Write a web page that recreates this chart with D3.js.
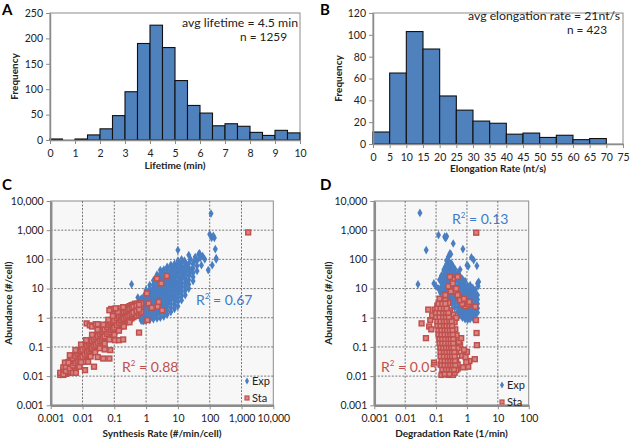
<!DOCTYPE html>
<html><head><meta charset="utf-8">
<script src="https://cdn.jsdelivr.net/npm/d3@7"></script>
<style>
body{margin:0;background:#fff;}
svg text{font-family:"Lato","Open Sans",sans-serif;}
</style></head>
<body><svg id="c" width="630" height="439"></svg>
<script>
// ---------- DATA ----------
const lifetimeBins = [0,0.5,1,1.5,2,2.5,3,3.5,4,4.5,5,5.5,6,6.5,7,7.5,8,8.5,9,9.5,10];
const lifetimeFreq = [2,0,2,10,22,48,95,190,226,182,117,68,53,28,32,27,15,9,19,14];
const lifetimeXTicks = [0,1,2,3,4,5,6,7,8,9,10];
const lifetimeYTicks = [0,50,100,150,200,250];

const elongBins = [0,5,10,15,20,25,30,35,40,45,50,55,60,65,70];
const elongFreq = [11,65,103,87,44,31,21,19,9,10,6,8,4,5];
const elongXTicks = [0,5,10,15,20,25,30,35,40,45,50,55,60,65,70,75];
const elongYTicks = [0,20,40,60,80,100,120];

const logTicksC = [0.001,0.01,0.1,1,10,100,1000,10000];
const logTicksDx = [0.001,0.01,0.1,1,10,100];
const logTicksY = [0.001,0.01,0.1,1,10,100,1000,10000];

// Panel C: synthesis rate vs abundance
const synthExp = [[0.6,1.2],[0.65,2.5],[0.7,0.9],[0.7,4.5],[0.75,1.6],[0.8,3.2],[0.8,0.78],[0.85,1.1],[0.9,2.2],[0.9,5.5],[0.95,1.4],[1.0,0.85],[1.0,3.0],[1.05,1.8],[1.1,7],[1.1,1.1],[1.15,2.5],[1.2,4],[1.25,0.95],[1.3,1.5],[1.35,3.5],[1.4,9],[1.4,2.0],[1.5,1.2],[1.5,5.5],[1.6,2.8],[1.65,1.6],[1.7,4.2],[1.8,12],[1.8,2.2],[1.9,7],[1.95,1.3],[2.0,3.3],[2.1,5],[2.2,1.8],[2.3,9],[2.3,2.6],[2.4,16],[2.5,4],[2.6,1.5],[2.7,6.5],[2.8,3],[2.9,11],[3.0,2.2],[3.1,20],[3.2,4.8],[3.3,8],[3.5,3.3],[3.6,14],[3.7,2.5],[3.8,6],[4.0,25],[4.0,10],[4.2,4],[4.4,17],[4.5,3],[4.7,7.5],[4.9,30],[5.0,12],[5.2,5],[5.5,20],[5.7,3.8],[6,9],[6.2,40],[6.5,15],[6.8,6],[7,25],[7.3,11],[7.6,50],[8,4.5],[8,18],[8.5,35],[9,8],[9,60],[9.5,14],[10,25],[10,208],[10.5,45],[11,10],[11.5,70],[12,20],[12.5,35],[13,15],[14,55],[15,28],[16,90],[17,40],[18,18],[20,60],[22,140],[23,30],[25,100],[27,45],[30,70],[32,82],[35,120],[40,90],[45,150],[48,160],[50,110],[55,63],[60,130],[70,100],[90,43],[100,720],[110,3700],[120,63],[115,550],[130,640],[140,550],[150,225],[160,100],[160,110],[0.35,14],[0.55,4.9],[0.5,1.8],[0.45,2.8],[0.6,3.5],
[0.7,0.8],[0.7,1.1],[0.7,1.5],[0.7,2.1],[0.7,3],[0.7,4.2],[0.85,0.78],[0.85,1.0],[0.85,1.4],[0.85,2],[0.85,2.8],[0.85,4],[0.85,5.5],
[1.0,0.8],[1.0,1.05],[1.0,1.4],[1.0,1.9],[1.0,2.6],[1.0,3.5],[1.0,4.8],[1.0,6.5],[1.0,9],
[1.3,0.85],[1.3,1.1],[1.3,1.5],[1.3,2],[1.3,2.7],[1.3,3.7],[1.3,5],[1.3,7],[1.3,9.5],[1.3,13],
[1.7,0.9],[1.7,1.2],[1.7,1.6],[1.7,2.2],[1.7,3],[1.7,4],[1.7,5.5],[1.7,7.5],[1.7,10],[1.7,14],[1.7,19],
[2.2,0.95],[2.2,1.3],[2.2,1.8],[2.2,2.4],[2.2,3.3],[2.2,4.5],[2.2,6],[2.2,8.5],[2.2,11.5],[2.2,16],[2.2,22],[2.2,30],
[2.8,1.0],[2.8,1.4],[2.8,1.9],[2.8,2.6],[2.8,3.5],[2.8,4.8],[2.8,6.5],[2.8,9],[2.8,12],[2.8,17],[2.8,23],[2.8,32],[2.8,43],
[3.6,1.1],[3.6,1.5],[3.6,2.1],[3.6,2.9],[3.6,4],[3.6,5.5],[3.6,7.5],[3.6,10],[3.6,14],[3.6,19],[3.6,26],[3.6,36],[3.6,45],
[4.6,1.3],[4.6,1.8],[4.6,2.5],[4.6,3.4],[4.6,4.7],[4.6,6.5],[4.6,9],[4.6,12],[4.6,17],[4.6,23],[4.6,32],[4.6,45],[4.6,55],
[6,1.6],[6,2.2],[6,3],[6,4.2],[6,5.8],[6,8],[6,11],[6,15],[6,21],[6,29],[6,40],[6,55],[6,65],
[7.8,2],[7.8,2.8],[7.8,3.8],[7.8,5.2],[7.8,7.2],[7.8,10],[7.8,14],[7.8,19],[7.8,26],[7.8,36],[7.8,50],[7.8,70],
[10,2.5],[10,3.5],[10,4.8],[10,6.5],[10,9],[10,12.5],[10,17],[10,24],[10,33],[10,46],[10,64],[10,90],
[13,4],[13,5.5],[13,7.5],[13,10.5],[13,14.5],[13,20],[13,28],[13,39],[13,54],[13,75],[13,100],
[17,6],[17,8.5],[17,12],[17,16],[17,22],[17,30],[17,42],[17,58],[17,80],
[22,10],[22,14],[22,20],[22,28],[22,38],[22,52],[22,72],[30,18],[30,25],[30,35],[30,50],[40,40],[40,60]];
const synthSta = [[0.002,0.011],[0.002,0.013],[0.0025,0.011],[0.0025,0.016],[0.003,0.012],[0.003,0.018],[0.003,0.024],[0.0035,0.013],[0.0035,0.02],[0.0035,0.03],[0.004,0.014],[0.004,0.024],[0.004,0.033],[0.005,0.017],[0.005,0.03],[0.005,0.045],[0.006,0.021],[0.006,0.035],[0.006,0.055],[0.007,0.025],[0.007,0.042],[0.007,0.065],[0.008,0.028],[0.008,0.05],[0.008,0.075],[0.009,0.032],[0.009,0.055],[0.009,0.085],[0.01,0.035],[0.01,0.06],[0.01,0.095],[0.012,0.042],[0.012,0.072],[0.012,0.11],[0.014,0.05],[0.014,0.085],[0.014,0.13],[0.016,0.056],[0.016,0.1],[0.016,0.15],[0.018,0.063],[0.018,0.11],[0.018,0.17],[0.02,0.07],[0.02,0.12],[0.02,0.19],[0.023,0.08],[0.023,0.14],[0.023,0.22],[0.026,0.09],[0.026,0.16],[0.026,0.25],[0.03,0.1],[0.03,0.18],[0.03,0.29],[0.035,0.12],[0.035,0.21],[0.035,0.34],[0.04,0.14],[0.04,0.24],[0.04,0.38],[0.045,0.16],[0.045,0.27],[0.045,0.43],[0.05,0.17],[0.05,0.3],[0.05,0.48],[0.06,0.2],[0.06,0.36],[0.06,0.58],[0.07,0.24],[0.07,0.42],[0.07,0.68],[0.08,0.27],[0.08,0.48],[0.08,0.78],[0.09,0.3],[0.09,0.54],[0.09,0.88],[0.1,0.33],[0.1,0.6],[0.1,0.98],[0.1,1.5],[0.12,0.38],[0.12,0.72],[0.12,1.15],[0.12,1.8],[0.14,0.45],[0.14,0.82],[0.14,1.3],[0.16,0.5],[0.16,0.95],[0.16,1.5],[0.16,2.1],[0.18,0.55],[0.18,1.05],[0.18,1.7],[0.2,0.6],[0.2,1.15],[0.2,1.9],[0.23,0.7],[0.23,1.3],[0.23,2.1],[0.26,0.75],[0.26,1.45],[0.26,2.3],[0.3,0.85],[0.3,1.6],[0.3,2.5],[0.35,0.95],[0.35,1.8],[0.35,2.7],[0.4,1.05],[0.4,1.9],[0.4,2.8],[0.45,1.15],[0.45,2.0],[0.45,3.0],[0.5,1.2],[0.5,2.1],[0.5,3.0],[0.6,1.4],[0.6,2.3],[0.6,3.1],[0.7,1.6],[0.7,2.5],[0.7,3.1],
[0.0025,0.0115],[0.0025,0.02],[0.003,0.015],[0.003,0.021],[0.004,0.018],[0.004,0.03],[0.005,0.023],[0.005,0.04],[0.006,0.028],[0.006,0.048],[0.007,0.032],[0.007,0.056],[0.008,0.037],[0.008,0.064],[0.009,0.041],[0.009,0.072],[0.01,0.046],[0.01,0.08],[0.012,0.055],[0.012,0.096],[0.014,0.064],[0.014,0.11],[0.016,0.074],[0.016,0.13],[0.018,0.083],[0.018,0.14],[0.02,0.092],[0.02,0.16],[0.023,0.106],[0.023,0.18],[0.026,0.12],[0.026,0.21],[0.03,0.14],[0.03,0.24],[0.035,0.16],[0.035,0.28],[0.04,0.18],[0.04,0.32],[0.045,0.21],[0.045,0.36],[0.05,0.23],[0.05,0.4],[0.06,0.28],[0.06,0.48],[0.07,0.32],[0.07,0.56],[0.08,0.37],[0.08,0.64],[0.09,0.41],[0.09,0.72],[0.1,0.46],[0.1,0.8],[0.12,0.55],[0.12,0.96],[0.14,0.64],[0.14,1.1],[0.16,0.74],[0.16,1.25],[0.18,0.83],[0.18,1.4],[0.2,0.92],[0.2,1.55],[0.23,1.0],[0.23,1.7],[0.26,1.1],[0.26,1.9],[0.3,1.2],[0.3,2.0],[0.35,1.35],[0.35,2.2],[0.4,1.5],[0.4,2.4],[0.5,1.7],[0.5,2.6],[0.6,1.9],[0.6,2.8],
[0.005,0.013],[0.008,0.021],[0.012,0.031],[0.018,0.047],[0.025,0.065],[0.035,0.09],[0.05,0.13],[0.07,0.18],[0.1,0.26],[0.14,0.36],[0.2,0.5],[0.3,0.7],
[0.004,0.052],[0.006,0.078],[0.009,0.12],[0.013,0.17],[0.02,0.26],[0.03,0.39],[0.045,0.58],[0.065,0.85],[0.09,1.15],[0.13,1.6],[0.19,2.3],
[0.0028,0.029],[0.0036,0.029],[0.0062,0.013],[0.0135,0.64],[0.017,0.55],[0.02,0.5],[0.026,0.6],[0.05,0.082],[0.045,0.04],[0.07,0.04],[0.075,0.078],[0.023,0.021],[0.015,0.031],[0.03,0.045],[0.012,0.016],[0.105,0.17],[0.14,0.17],[0.19,0.18],[0.6,0.31],[1.1,0.83],[2.2,22],[4.5,27],[1.06,6.8],[1.2,3.1],[2.3,2.4],[1620,840],[3,15],[2.5,3.5],[3.2,1.8],[1.5,2.2],[0.08,2.0],[0.07,1.8],[0.11,2.1],[0.03,0.6],[0.009,0.03]];

// Panel D: degradation rate vs abundance
const degExp = [[0.03,3900],[0.048,208],[0.026,14],[0.12,680],[0.19,600],[0.21,560],[0.22,620],[0.2,540],[0.36,350],[0.74,225],[1.4,117],[1.65,95],[1.0,63],[2.1,60],[1.1,58],[0.6,45],[2.2,15],[2.4,17],[2.3,12],[0.25,123],[0.28,160],[0.3,150],[0.22,90],[0.27,80],[0.32,70],[0.24,60],[0.2,55],[0.35,55],[0.18,40],[0.3,40],[0.4,45],[0.26,35],[0.38,30],[0.15,28],[0.5,30],[0.22,25],[0.45,22],[0.6,25],[0.13,20],[0.16,15],[0.1,12],[0.085,15],[0.12,10],[0.14,7],
[0.15,8],[0.15,12],[0.15,18],[0.15,25],[0.18,5],[0.18,7],[0.18,10],[0.18,14],[0.18,20],[0.18,30],[0.18,45],
[0.22,4],[0.22,6],[0.22,8.5],[0.22,12],[0.22,17],[0.22,24],[0.22,34],[0.22,50],[0.22,70],
[0.27,3.5],[0.27,5],[0.27,7],[0.27,10],[0.27,14],[0.27,20],[0.27,28],[0.27,40],[0.27,56],[0.27,80],
[0.33,3],[0.33,4.2],[0.33,6],[0.33,8.5],[0.33,12],[0.33,17],[0.33,24],[0.33,34],[0.33,48],[0.33,65],
[0.4,2.2],[0.4,3.2],[0.4,4.5],[0.4,6.3],[0.4,9],[0.4,12.5],[0.4,18],[0.4,25],[0.4,35],[0.4,48],
[0.5,1.6],[0.5,2.3],[0.5,3.2],[0.5,4.5],[0.5,6.3],[0.5,9],[0.5,12.5],[0.5,18],[0.5,25],[0.5,35],
[0.6,1.2],[0.6,1.7],[0.6,2.4],[0.6,3.4],[0.6,4.8],[0.6,6.7],[0.6,9.4],[0.6,13],[0.6,18],[0.6,26],
[0.72,1.0],[0.72,1.4],[0.72,2],[0.72,2.8],[0.72,3.9],[0.72,5.5],[0.72,7.7],[0.72,11],[0.72,15],[0.72,21],
[0.87,0.9],[0.87,1.25],[0.87,1.75],[0.87,2.5],[0.87,3.5],[0.87,4.9],[0.87,6.8],[0.87,9.5],[0.87,13],[0.87,18],
[1.05,0.85],[1.05,1.2],[1.05,1.7],[1.05,2.4],[1.05,3.3],[1.05,4.6],[1.05,6.5],[1.05,9],[1.05,12.5],
[1.27,0.9],[1.27,1.25],[1.27,1.75],[1.27,2.5],[1.27,3.5],[1.27,4.9],[1.27,6.8],[1.27,9.5],[1.27,13],
[1.55,1.0],[1.55,1.4],[1.55,2],[1.55,2.8],[1.55,3.9],[1.55,5.5],[1.55,7.7],[1.55,10.5],
[1.85,1.2],[1.85,1.7],[1.85,2.4],[1.85,3.4],[1.85,4.8],[1.85,6.7],[1.85,9],[2.2,1.5],[2.2,2.1],[2.2,3],[2.2,4.2],[2.2,6]];
const degSta = [[0.034,0.64],[0.047,0.2],[0.056,1.9],[0.065,0.83],[0.06,0.5],[0.07,0.4],[0.075,1.2],[1.86,2.4],[1.96,0.83],[2.05,0.3],[2.1,0.115],[1.8,0.038],[1.0,0.068],[1.2,0.033],[1.1,0.021],[2.0,820],[0.086,0.029],[0.78,3.5],[0.9,2.5],[1.1,3],[0.5,25],[0.35,20],[0.4,8],[0.55,5],[0.6,0.12],[0.7,0.05],[0.8,0.08],[0.9,0.045],[0.55,0.15],[0.65,0.2],[0.75,0.02],[0.95,0.03],[0.5,0.018],
[0.15,0.011],[0.2,0.012],[0.25,0.011],[0.3,0.012],[0.35,0.011],[0.4,0.013],[0.18,0.015],[0.23,0.016],[0.28,0.014],[0.33,0.017],[0.45,0.016],[0.14,0.025],[0.17,0.03],[0.2,0.022],[0.22,0.035],[0.25,0.028],[0.27,0.04],[0.3,0.024],[0.32,0.033],[0.36,0.045],[0.4,0.028],[0.45,0.036],[0.5,0.025],[0.19,0.045],[0.16,0.04],[0.15,0.06],[0.18,0.08],[0.2,0.055],[0.22,0.1],[0.24,0.07],[0.26,0.13],[0.28,0.06],[0.3,0.09],[0.33,0.12],[0.36,0.07],[0.4,0.1],[0.45,0.065],[0.5,0.09],[0.17,0.12],[0.14,0.1],[0.13,0.2],[0.16,0.3],[0.18,0.18],[0.2,0.4],[0.22,0.25],[0.24,0.16],[0.26,0.35],[0.28,0.22],[0.3,0.45],[0.32,0.18],[0.35,0.3],[0.38,0.22],[0.42,0.4],[0.46,0.25],[0.15,0.45],[0.19,0.26],[0.12,0.7],[0.14,1.1],[0.16,0.55],[0.18,0.9],[0.2,1.3],[0.22,0.6],[0.24,1.0],[0.26,0.75],[0.28,1.2],[0.3,0.55],[0.33,0.9],[0.36,1.3],[0.4,0.7],[0.45,1.0],[0.15,1.4],
[0.12,2.0],[0.14,3],[0.16,1.7],[0.18,2.5],[0.2,4],[0.22,2],[0.25,3.2],[0.28,1.8],[0.1,1.6],[0.13,4.5],[0.11,2.6],[0.09,1.9],
[0.19,0.012],[0.27,0.012],[0.16,0.017],[0.21,0.017],[0.26,0.017],[0.32,0.017],[0.38,0.017],[0.15,0.024],[0.19,0.024],[0.24,0.024],[0.29,0.024],[0.35,0.024],[0.42,0.024],[0.15,0.034],[0.19,0.034],[0.24,0.034],[0.29,0.034],[0.35,0.034],[0.41,0.034],[0.14,0.048],[0.18,0.048],[0.23,0.048],[0.28,0.048],[0.33,0.048],[0.4,0.048],[0.14,0.068],[0.18,0.068],[0.22,0.068],[0.27,0.068],[0.33,0.068],[0.39,0.068],[0.14,0.095],[0.17,0.095],[0.21,0.095],[0.26,0.095],[0.31,0.095],[0.37,0.095],[0.13,0.135],[0.16,0.135],[0.2,0.135],[0.25,0.135],[0.3,0.135],[0.36,0.135],[0.13,0.19],[0.16,0.19],[0.2,0.19],[0.25,0.19],[0.3,0.19],[0.36,0.19],[0.12,0.27],[0.15,0.27],[0.19,0.27],[0.24,0.27],[0.29,0.27],[0.35,0.27],[0.12,0.38],[0.15,0.38],[0.19,0.38],[0.23,0.38],[0.28,0.38],[0.34,0.38],[0.11,0.54],[0.14,0.54],[0.18,0.54],[0.22,0.54],[0.27,0.54],[0.33,0.54],[0.11,0.76],[0.14,0.76],[0.18,0.76],[0.22,0.76],[0.27,0.76],[0.32,0.76],[0.1,1.07],[0.13,1.07],[0.17,1.07],[0.21,1.07],[0.26,1.07],[0.1,1.5],[0.13,1.5],[0.17,1.5],[0.21,1.5],[0.25,1.5],[0.11,2.1],[0.14,2.1],[0.18,2.1],[0.22,2.1],[0.12,3],[0.16,3],[0.2,3],
[0.3,8],[0.25,12],[0.35,15],[0.28,25],[0.5,6],[0.7,3],[0.6,4],[0.8,4.5],[1.2,3.5],[0.45,10],[0.2,6]];

// ---------- STYLE ----------
const BLUE = "#4f81bd", MBLUE = "#4a7ec2", RED = "#c0504d", PINK = "#d88583", AXIS = "#8c8c8c";
const svg = d3.select("#c");

function fmtLog(v){ return v >= 1 ? d3.format(",")(v) : String(v); }

function styleAxis(a, w){
  a.select(".domain").attr("stroke",AXIS).attr("stroke-width",w);
  a.selectAll(".tick line").attr("stroke",AXIS);
  a.selectAll("text").attr("font-size",10.5).attr("fill","#222").attr("font-family","Lato, sans-serif");
}

function histogram(cfg){
  const g = svg.append("g");
  const x = d3.scaleLinear().domain(cfg.xDomain).range([cfg.l, cfg.r]);
  const y = d3.scaleLinear().domain(cfg.yDomain).range([cfg.b, cfg.t]);
  g.append("rect").attr("x",cfg.l).attr("y",cfg.t).attr("width",cfg.r-cfg.l).attr("height",cfg.b-cfg.t)
   .attr("fill","none").attr("stroke",AXIS).attr("stroke-width",1);
  g.selectAll("rect.bar").data(cfg.freq).enter().append("rect").attr("class","bar")
    .attr("x",(d,i)=>x(cfg.bins[i])).attr("width",(d,i)=>x(cfg.bins[i+1])-x(cfg.bins[i]))
    .attr("y",d=>y(d)).attr("height",d=>cfg.b-y(d))
    .attr("fill",BLUE).attr("stroke","#111").attr("stroke-width",1.1);
  const ax = g.append("g").attr("transform",`translate(0,${cfg.b})`)
    .call(d3.axisBottom(x).tickValues(cfg.xTicks).tickSize(4).tickSizeOuter(0));
  const ay = g.append("g").attr("transform",`translate(${cfg.l},0)`)
    .call(d3.axisLeft(y).tickValues(cfg.yTicks).tickSize(4).tickSizeOuter(0));
  styleAxis(ax,1.5); styleAxis(ay,1.5);
  ax.selectAll("text").attr("dy","0.95em");
  g.append("text").attr("x",(cfg.l+cfg.r)/2).attr("y",cfg.xLabY).attr("text-anchor","middle")
    .attr("font-size",10).attr("font-weight","bold").attr("fill","#222").text(cfg.xLabel);
  g.append("text").attr("transform",`translate(${cfg.yLabX},${(cfg.t+cfg.b)/2}) rotate(-90)`)
    .attr("text-anchor","middle").attr("font-size",10).attr("font-weight","bold").attr("fill","#222").text("Frequency");
  cfg.notes.forEach(n=>g.append("text").attr("x",n[0]).attr("y",n[1]).attr("text-anchor","end")
    .attr("font-size",12).attr("fill","#222").attr("textLength",n[3]).attr("lengthAdjust","spacingAndGlyphs").text(n[2]));
}

histogram({l:50,r:300,t:13,b:140,xDomain:[0,10],yDomain:[0,250],bins:lifetimeBins,freq:lifetimeFreq,
  xTicks:lifetimeXTicks,yTicks:lifetimeYTicks,xLabel:"Lifetime (min)",xLabY:169,yLabX:18,
  notes:[[298,27,"avg lifetime = 4.5 min",116],[287,41,"n = 1259",47]]});
histogram({l:373,r:623,t:13,b:144,xDomain:[0,75],yDomain:[0,120],bins:elongBins,freq:elongFreq,
  xTicks:elongXTicks,yTicks:elongYTicks,xLabel:"Elongation Rate (nt/s)",xLabY:172,yLabX:342,
  notes:[[620,19.5,"avg elongation rate = 21nt/s",152],[607,34,"n = 423",40]]});

function scatter(cfg){
  const g = svg.append("g");
  const x = d3.scaleLog().domain(cfg.xDomain).range([cfg.l, cfg.r]);
  const y = d3.scaleLog().domain([0.001,10000]).range([cfg.b, cfg.t]);
  g.append("rect").attr("x",cfg.l).attr("y",cfg.t).attr("width",cfg.r-cfg.l).attr("height",cfg.b-cfg.t)
   .attr("fill","#f7f7f7").attr("stroke",AXIS).attr("stroke-width",1);
  const grid = g.append("g").attr("stroke","#777").attr("stroke-width",1).attr("stroke-dasharray","2,1.5");
  cfg.xTicks.slice(1,-1).forEach(v=>grid.append("line").attr("x1",x(v)).attr("x2",x(v)).attr("y1",cfg.t).attr("y2",cfg.b));
  logTicksY.slice(1,-1).forEach(v=>grid.append("line").attr("x1",cfg.l).attr("x2",cfg.r).attr("y1",y(v)).attr("y2",y(v)));
  const ax = g.append("g").attr("transform",`translate(0,${cfg.b})`)
    .call(d3.axisBottom(x).tickValues(cfg.xTicks).tickFormat(fmtLog).tickSize(4).tickSizeOuter(0));
  const ay = g.append("g").attr("transform",`translate(${cfg.l},0)`)
    .call(d3.axisLeft(y).tickValues(logTicksY).tickFormat(fmtLog).tickSize(4).tickSizeOuter(0));
  styleAxis(ax,2.5); styleAxis(ay,2.5);
  ax.selectAll("text").attr("dy","0.95em");
  g.append("g").selectAll("path").data(cfg.exp).enter().append("path")
    .attr("d",d3.symbol(d3.symbolDiamond,22)).attr("transform",d=>`translate(${x(d[0])},${y(d[1])})`)
    .attr("fill",MBLUE);
  g.append("g").selectAll("rect").data(cfg.sta).enter().append("rect")
    .attr("x",d=>x(d[0])-2.4).attr("y",d=>y(d[1])-2.4).attr("width",4.8).attr("height",4.8)
    .attr("fill",PINK).attr("stroke",RED).attr("stroke-width",1.5);
  const lg = g.append("g");
  lg.append("path").attr("d",d3.symbol(d3.symbolDiamond,14)).attr("transform",`translate(${cfg.leg[0]},${cfg.leg[1]})`).attr("fill",MBLUE);
  lg.append("text").attr("x",cfg.leg[0]+5).attr("y",cfg.leg[1]+4).attr("font-size",11).attr("fill","#222").text("Exp");
  lg.append("rect").attr("x",cfg.leg[0]-2).attr("y",cfg.leg[1]+15).attr("width",4).attr("height",4)
    .attr("fill",PINK).attr("stroke",RED).attr("stroke-width",1.2);
  lg.append("text").attr("x",cfg.leg[0]+5).attr("y",cfg.leg[1]+21).attr("font-size",11).attr("fill","#222").text("Sta");
  cfg.r2.forEach(r=>{
    const t = g.append("text").attr("x",r[0]).attr("y",r[1]).attr("font-size",14).attr("fill",r[3]);
    t.append("tspan").text("R");
    t.append("tspan").attr("font-size",8).attr("dy",-6).text("2");
    t.append("tspan").attr("dy",6).text(" = " + r[2]);
  });
  g.append("text").attr("x",(cfg.l+cfg.r)/2).attr("y",437).attr("text-anchor","middle")
    .attr("font-size",10).attr("font-weight","bold").attr("fill","#222").text(cfg.xLabel);
  g.append("text").attr("transform",`translate(${cfg.yLabX},${(cfg.t+cfg.b)/2}) rotate(-90)`)
    .attr("text-anchor","middle").attr("font-size",10).attr("font-weight","bold").attr("fill","#222").text("Abundance (#/cell)");
}

scatter({l:50.7,r:273.3,t:201,b:405.3,xDomain:[0.001,10000],xTicks:logTicksC,exp:synthExp,sta:synthSta,
  xLabel:"Synthesis Rate (#/min/cell)",yLabX:12,leg:[247,381],
  r2:[[196,305,"0.67","#3d7cc9"],[122,372,"0.88",RED]]});
scatter({l:374.3,r:528.7,t:201,b:405.3,xDomain:[0.001,100],xTicks:logTicksDx,exp:degExp,sta:degSta,
  xLabel:"Degradation Rate (1/min)",yLabX:332,leg:[502,385],
  r2:[[452,224,"0.13","#3d7cc9"],[381,372,"0.05",RED]]});

[["A",2,15],["B",320,15],["C",2,190],["D",320,190]].forEach(p=>
  svg.append("text").attr("x",p[1]).attr("y",p[2]).attr("font-family","Liberation Sans, Arial, sans-serif")
   .attr("font-weight","bold").attr("font-size",15).text(p[0]));
</script></body></html>
